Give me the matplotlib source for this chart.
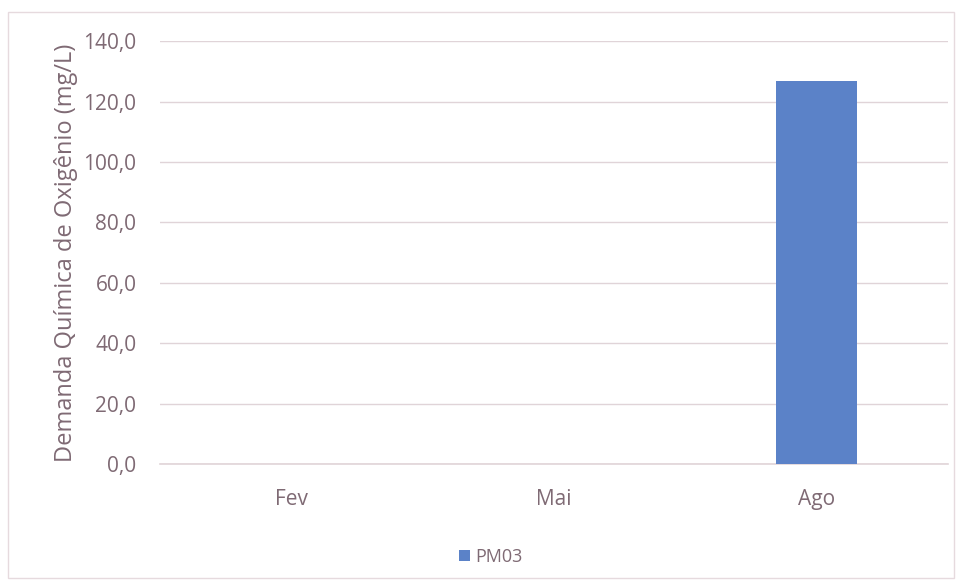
import matplotlib.pyplot as plt
import matplotlib.ticker as mticker
from matplotlib.patches import Rectangle
import numpy as np

# dados
meses = ['Fev', 'Mai', 'Ago']
pm03 = [np.nan, np.nan, 127.0]

cor_texto = '#7f6a74'
cor_grade = '#e0d4d8'
cor_barra = '#5b82c8'

plt.rcParams['font.family'] = ['Open Sans', 'DejaVu Sans']

fig = plt.figure(figsize=(9.64, 5.81), dpi=100)
ax = fig.add_axes([0.166, 0.2014, 0.817, 0.7276])

x = np.arange(len(meses))
ax.bar(x, pm03, width=0.31, color=cor_barra, label='PM03', zorder=3)

ax.set_xlim(-0.5, 2.5)
ax.set_ylim(0, 140)
ax.yaxis.set_major_locator(mticker.MultipleLocator(20))
ax.yaxis.set_major_formatter(mticker.FuncFormatter(lambda v, p: f'{v:.1f}'.replace('.', ',')))
ax.set_xticks(x)
ax.set_xticklabels(meses)

ax.grid(axis='y', color=cor_grade, lw=1, zorder=0)
ax.axhline(0, color=cor_grade, lw=1.2, zorder=1, clip_on=False)
for s in ax.spines.values():
    s.set_visible(False)
ax.tick_params(length=0, colors=cor_texto, labelsize=15)
ax.tick_params(axis='y', pad=17)
ax.tick_params(axis='x', pad=18)

ax.set_ylabel('Demanda Química de Oxigênio (mg/L)', color=cor_texto, fontsize=17, labelpad=4)

ax.legend(loc='upper center', bbox_to_anchor=(0.42, -0.16), frameon=False,
          fontsize=13, labelcolor=cor_texto, handlelength=0.6, handleheight=0.6,
          handletextpad=0.3)

# moldura do gráfico
fig.patches.append(Rectangle((0.008, 0.006), 0.982, 0.974, transform=fig.transFigure,
                             fill=False, edgecolor='#e6dade', lw=1))

fig.savefig('out.png', dpi=100)
